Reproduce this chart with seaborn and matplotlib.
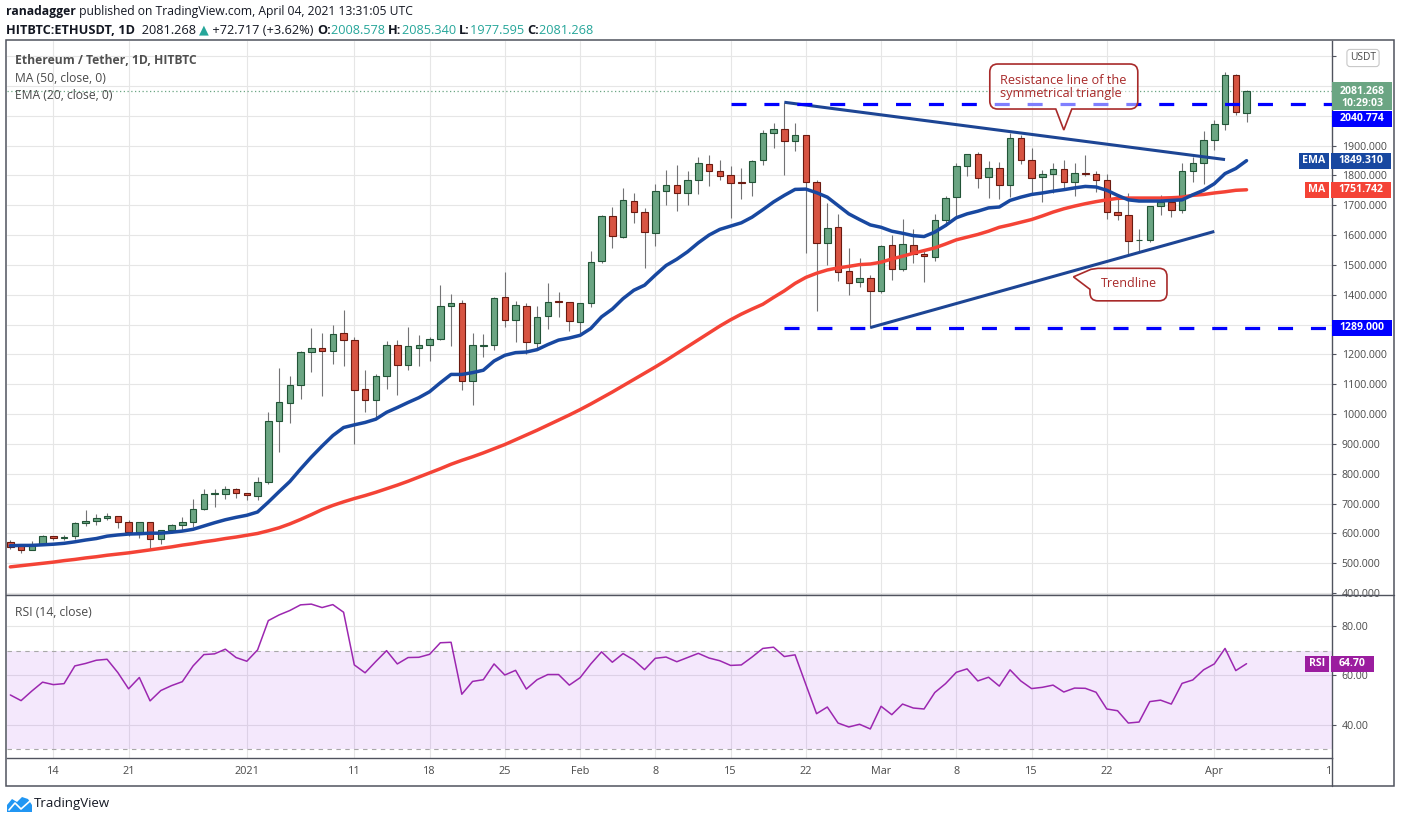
import matplotlib
matplotlib.use("Agg")
import numpy as np
import pandas as pd
import matplotlib.pyplot as plt
import seaborn as sns
from matplotlib.patches import Rectangle, PathPatch, Polygon
from matplotlib.path import Path
from matplotlib.lines import Line2D
from matplotlib.transforms import Bbox, TransformedBbox

# ETH/USDT daily candles, 2020-12-10 .. 2021-04-04
start_date = "2020-12-10"
opens = [573, 560, 543, 566, 590, 586, 590, 635, 642, 652, 657, 637, 605, 637, 582, 613, 627, 637, 683, 731, 731, 750,
         737, 727, 773, 977, 1036, 1097, 1207, 1223, 1213, 1273, 1250, 1083, 1047, 1127, 1230, 1165, 1222, 1230, 1252, 1363,
         1372, 1110, 1229, 1230, 1393, 1317, 1363, 1237, 1330, 1380, 1377,
         1310, 1373, 1513, 1663, 1592, 1713, 1677, 1607, 1747, 1767, 1740, 1783, 1837, 1813, 1800, 1778, 1777, 1850, 1941,
         1954, 1914, 1934, 1779, 1574, 1628, 1479, 1442, 1456,
         1412, 1567, 1486, 1567, 1538, 1527, 1651, 1728, 1833, 1870, 1795, 1826, 1769, 1924, 1850, 1796, 1806, 1823, 1779,
         1809, 1806, 1786, 1677, 1668, 1582, 1584, 1697, 1710, 1685, 1816, 1840,
         1920, 1971, 2136, 2008.578]
highs = [578, 561, 574, 594, 590, 595, 637, 678, 664, 670, 660, 646, 637, 637, 613, 633, 654, 714, 748, 748, 758, 753,
         737, 789, 1008, 1154, 1128, 1211, 1287, 1271, 1298, 1348, 1258, 1148, 1133, 1244, 1250, 1291, 1264, 1258, 1434, 1403,
         1383, 1271, 1268, 1394, 1475, 1378, 1373, 1361, 1438, 1408, 1377,
         1373, 1548, 1668, 1693, 1758, 1741, 1690, 1771, 1818, 1834, 1814, 1861, 1868, 1851, 1831, 1824, 1853, 1952, 1975,
         2043, 1975, 1934, 1784, 1708, 1671, 1557, 1523, 1466,
         1567, 1601, 1654, 1621, 1547, 1671, 1732, 1840, 1870, 1880, 1847, 1844, 1941, 1934, 1891, 1819, 1840, 1851, 1840,
         1868, 1816, 1806, 1721, 1741, 1621, 1698, 1734, 1728, 1840, 1863, 1949,
         1984, 2146, 2139, 2085.340]
lows = [547, 536, 543, 560, 577, 578, 581, 625, 630, 644, 619, 593, 585, 549, 565, 602, 613, 622, 677, 689, 715, 720,
        712, 712, 765, 872, 969, 1052, 1142, 1059, 1169, 1162, 900, 1006, 983, 1085, 1065, 1149, 1161, 1179, 1250, 1229,
        1082, 1029, 1192, 1215, 1292, 1242, 1203, 1214, 1286, 1326, 1279,
        1268, 1359, 1506, 1556, 1590, 1642, 1489, 1562, 1701, 1679, 1701, 1737, 1763, 1783, 1656, 1720, 1730, 1835, 1892,
        1801, 1882, 1539, 1347, 1499, 1445, 1399, 1426, 1290,
        1405, 1451, 1479, 1505, 1442, 1512, 1631, 1663, 1799, 1759, 1725, 1722, 1727, 1838, 1734, 1711, 1741, 1754, 1731,
        1799, 1744, 1653, 1650, 1536, 1546, 1577, 1667, 1660, 1674, 1778, 1771,
        1886, 1951, 2001, 1977.595]
closes = [556, 543, 566, 590, 585, 589, 636, 643, 653, 657, 637, 605, 637, 582, 613, 627, 637, 683, 731, 733, 750, 737,
          730, 773, 977, 1040, 1097, 1207, 1220, 1213, 1270, 1250, 1080, 1047, 1127, 1230, 1166, 1227, 1230, 1253, 1363, 1372,
          1110, 1230, 1232, 1390, 1317, 1367, 1240, 1327, 1377, 1376, 1313,
          1373, 1510, 1663, 1597, 1717, 1677, 1610, 1747, 1767, 1740, 1783, 1840, 1813, 1797, 1773, 1776, 1847, 1941, 1954,
          1914, 1934, 1779, 1574, 1624, 1476, 1439, 1456, 1412,
          1564, 1486, 1570, 1537, 1530, 1651, 1725, 1833, 1870, 1792, 1826, 1769, 1924, 1850, 1792, 1806, 1823, 1779, 1809,
          1805, 1786, 1677, 1667, 1579, 1584, 1698, 1710, 1685, 1816, 1840, 1920,
          1971, 2136, 2011, 2081.268]

ema20 = [559, 560, 560, 562, 564, 567, 572, 578, 583, 591, 595, 598, 599, 601, 601, 604, 608, 614, 625, 636, 646, 654,
         661, 672, 705, 740, 774, 816, 856, 893, 928, 955, 964, 972, 983, 1006, 1022, 1039, 1055, 1075, 1105, 1133,
         1133, 1139, 1147, 1178, 1197, 1206, 1208, 1216, 1233, 1248, 1255,
         1264, 1287, 1326, 1352, 1387, 1415, 1432, 1466, 1498, 1519, 1544, 1574, 1600, 1619, 1630, 1641, 1660, 1685, 1711,
         1733, 1753, 1754, 1742, 1727, 1699, 1671, 1652, 1634,
         1626, 1613, 1606, 1598, 1595, 1610, 1632, 1658, 1671, 1680, 1691, 1694, 1716, 1727, 1736, 1741, 1747, 1752, 1758,
         1763, 1761, 1750, 1733, 1718, 1714, 1714, 1714, 1716, 1718, 1735, 1750,
         1772, 1806, 1823, 1849.31]
ma50 = [488, 492, 496, 500, 504, 509, 513, 518, 522, 527, 531, 535, 540, 545, 550, 555, 561, 566, 572, 577, 583, 588,
        594, 600, 609, 619, 632, 647, 663, 680, 694, 706, 717, 727, 738, 750, 762, 775, 789, 803, 817, 832,
        845, 857, 870, 884, 898, 914, 930, 946, 963, 980, 997,
        1015, 1034, 1054, 1074, 1095, 1116, 1137, 1158, 1180, 1203, 1226, 1249, 1272, 1295, 1316, 1335, 1352, 1368, 1391,
        1413, 1438, 1458, 1472, 1483, 1490, 1495, 1501, 1503,
        1509, 1520, 1529, 1539, 1548, 1557, 1570, 1584, 1593, 1602, 1613, 1626, 1634, 1643, 1652, 1664, 1677, 1688, 1697,
        1705, 1712, 1718, 1723, 1724, 1724, 1724, 1724, 1725, 1727, 1733, 1736,
        1741, 1745, 1750, 1751.742]
rsi14 = [52.0, 49.7, 53.6, 57.2, 56.2, 56.6, 63.8, 64.8, 66.1, 66.5, 61.1, 54.5, 59.1, 49.6, 53.8, 55.8, 57.4, 63.8,
         68.4, 68.7, 70.6, 67.2,
         65.7, 70.3, 82.2, 84.5, 86.3, 88.6, 88.9, 87.5, 88.7, 85.6, 64.2, 61.0, 65.6, 70.0, 64.6, 67.2, 67.3, 68.5, 73.2,
         73.4, 52.3, 57.5, 58.2, 64.6, 60.1, 62.0, 54.4, 58.2, 60.3, 60.3, 56.0,
         59.0, 64.6, 69.5, 65.3, 68.8, 66.2, 62.3, 66.9, 67.4, 65.5, 67.2, 68.9, 67.0, 65.9, 64.0, 64.2, 67.4, 70.9, 71.4,
         67.6, 68.3, 56.3, 44.4, 47.1, 40.6, 39.0, 40.1, 38.2,
         47.4, 44.0, 48.3, 46.7, 46.3, 53.0, 56.6, 61.2, 62.6, 57.7, 59.2, 55.6, 62.2, 57.7, 54.6, 55.1, 56.0, 53.2, 54.8,
         54.7, 53.1, 46.3, 45.6, 40.6, 41.0, 49.3, 49.9, 48.3, 56.7, 58.1, 62.2,
         64.6, 70.9, 61.9, 64.7]

# drawn lines (triangle + levels)
upper_line_days = ["2021-02-20", "2021-04-02"]
upper_line_prices = [2045, 1853]
lower_line_days = ["2021-02-28", "2021-04-01"]
lower_line_prices = [1290, 1612]
resistance_level, resistance_from = 2040.774, "2021-02-15"
support_level, support_from = 1289.0, "2021-02-20"

tick_dates = ["2020-12-14", "2020-12-21", "2021-01-01", "2021-01-11", "2021-01-18", "2021-01-25", "2021-02-01",
              "2021-02-08", "2021-02-15", "2021-02-22", "2021-03-01", "2021-03-08", "2021-03-15", "2021-03-22",
              "2021-04-01"]
tick_labels = ["14", "21", "2021", "11", "18", "25", "Feb", "8", "15", "22", "Mar", "8", "15", "22", "Apr"]

price_ticks = list(range(400, 2300, 100))
hidden_price_ticks = [1300, 2000, 2100, 2200]   # sit under the price tags
rsi_ticks = [40, 60, 80]

dates = pd.date_range(start_date, periods=len(closes), freq="D")
t0 = dates[0]


def day_of(d):
    return (pd.Timestamp(d) - t0).days


df = pd.DataFrame({"day": np.arange(len(dates)), "open": opens, "high": highs, "low": lows,
                   "close": closes, "ema20": ema20, "ma50": ma50, "rsi": rsi14})

# colours
UP, UP_EDGE = "#6ba583", "#225437"
DN, DN_EDGE = "#d75442", "#6b1a10"
WICK = "#737375"
EMA_C, MA_C, TREND_C = "#1848a0", "#f44336", "#1d4594"
AXC, TXT = "#50535e", "#4a4a4a"
CALLOUT = "#a82a2a"

sns.set_style("white")
plt.rcParams["font.family"] = ["Open Sans", "DejaVu Sans"]

W, H = 1402, 823
fig = plt.figure(figsize=(W / 100, H / 100), dpi=100)


def box(x0, y0, x1, y1):
    return [x0 / W, 1 - y1 / H, (x1 - x0) / W, (y1 - y0) / H]


def fpt(x, y):
    return (x / W, 1 - y / H)


ax = fig.add_axes(box(7, 41, 1332, 595))
ax_r = fig.add_axes(box(7, 595, 1332, 758), sharex=ax)

# ---- candles
up = df["close"] >= df["open"]
body_lo = df[["open", "close"]].min(axis=1)
body_h = (df["close"] - df["open"]).abs().clip(lower=3)
ax.vlines(df["day"], df["low"], df["high"], color=WICK, lw=0.8, zorder=2)
ax.bar(df["day"][up], body_h[up], bottom=body_lo[up], width=0.6, color=UP, edgecolor=UP_EDGE, lw=0.8, zorder=3)
ax.bar(df["day"][~up], body_h[~up], bottom=body_lo[~up], width=0.6, color=DN, edgecolor=DN_EDGE, lw=0.8, zorder=3)

# ---- moving averages
sns.lineplot(data=df, x="day", y="ma50", ax=ax, color=MA_C, lw=2.5, zorder=4)
sns.lineplot(data=df, x="day", y="ema20", ax=ax, color=EMA_C, lw=2.5, zorder=4)

# ---- drawings
ax.plot([day_of(d) for d in upper_line_days], upper_line_prices, color=TREND_C, lw=2.2, zorder=5,
        solid_capstyle="butt")
ax.plot([day_of(d) for d in lower_line_days], lower_line_prices, color=TREND_C, lw=2.2, zorder=5,
        solid_capstyle="butt")
ax.plot([day_of(resistance_from), 130], [resistance_level] * 2, color="#0000ff", lw=2.3,
        ls=(0, (4.7, 5.6)), zorder=5)
ax.plot([day_of(support_from), 130], [support_level] * 2, color="#0000ff", lw=2.3,
        ls=(0, (4.7, 5.6)), zorder=5)
ax.axhline(closes[-1], color=UP, lw=0.9, ls=(0, (1, 2)), zorder=1.5)

ax.set_xlim(-0.31, 122.95)
ax.set_ylim(393.8, 2250.3)

# ---- RSI
ax_r.axhspan(30, 70, color="#8a00e8", alpha=0.09, lw=0, zorder=1)
for lvl in (30, 70):
    ax_r.axhline(lvl, color="#a8a8a8", lw=0.8, ls=(0, (4, 4)), zorder=1.5)
sns.lineplot(data=df, x="day", y="rsi", ax=ax_r, color="#9c27b0", lw=1.1, zorder=3)
ax_r.set_ylim(26.4, 92.6)

# ---- axes styling
for a in (ax, ax_r):
    a.set_xlabel("")
    a.set_ylabel("")
    a.set_facecolor("white")
    a.grid(True, color="#e6e6e6", lw=0.8)
    a.set_axisbelow(True)
    a.yaxis.tick_right()
    for s in a.spines.values():
        s.set_color(AXC)
        s.set_linewidth(1.0)
    a.spines["left"].set_visible(False)
    a.spines["top"].set_visible(False)

ax_r.set_xticks([day_of(d) for d in tick_dates])
ax_r.set_xticklabels(tick_labels)
ax.tick_params(axis="x", length=0, labelbottom=False)
ax_r.tick_params(axis="x", length=0, pad=5.5, labelsize=7.8, labelcolor=TXT)

ax.set_yticks(price_ticks)
ax.set_yticklabels(["" if v in hidden_price_ticks else f"{v:.3f}" for v in price_ticks])
ax_r.set_yticks(rsi_ticks)
ax_r.set_yticklabels([f"{v:.2f}" for v in rsi_ticks])
for a in (ax, ax_r):
    a.tick_params(axis="y", length=3, width=0.8, color=AXC, labelsize=7.6, labelcolor=TXT, pad=4)

# frame, separators
fig.add_artist(Rectangle(fpt(6, 786), 1388 / W, 746 / H, transform=fig.transFigure, fill=False,
                         ec=AXC, lw=1.1, zorder=8))
fig.add_artist(Line2D([6 / W, 1394 / W], [1 - 595 / H] * 2, transform=fig.transFigure, color=AXC, lw=1.0, zorder=8))
fig.add_artist(Line2D([1332 / W] * 2, [1 - 758 / H, 1 - 786 / H], transform=fig.transFigure, color=AXC, lw=1.0,
                      zorder=8))

# clipped "12" tick at the right edge
t12 = fig.text((7 + (day_of("2021-04-12") + 0.31) * 10.75) / W, 1 - 771 / H, "12", ha="center", va="center",
               fontsize=7.8, color=TXT)
t12.set_clip_box(TransformedBbox(Bbox([[0, 0], [1331 / W, 1]]), fig.transFigure))
t12.set_clip_on(True)


# ---- price tags on the scale
def py(a, v):
    return H - a.transData.transform((0, v))[1]


def tag(x0, x1, yc, txt, fc, h=16, size=7.6):
    fig.add_artist(Rectangle(fpt(x0, yc + h / 2), (x1 - x0) / W, h / H, transform=fig.transFigure,
                             fc=fc, ec="none", zorder=9))
    fig.text((x0 + x1) / 2 / W, 1 - yc / H, txt, ha="center", va="center",
             color="white", fontsize=size, fontweight="bold", zorder=10)


yc_close = py(ax, closes[-1])
fig.add_artist(Rectangle(fpt(1332, yc_close + 18.5), 60 / W, 28 / H, transform=fig.transFigure,
                         fc=UP, ec="none", zorder=9))
fig.text(1362 / W, 1 - (yc_close + 0.5) / H, f"{closes[-1]:.3f}", ha="center", va="center", color="white",
         fontsize=7.6, fontweight="bold", zorder=10)
fig.text(1362 / W, 1 - (yc_close + 12) / H, "10:29:03", ha="center", va="center", color="white",
         fontsize=7.6, fontweight="bold", zorder=10)
tag(1332, 1392, yc_close + 27.5, f"{resistance_level:.3f}", "#0000ff")
yc = py(ax, ema20[-1])
tag(1299, 1329, yc, "EMA", EMA_C)
tag(1331, 1391, yc, f"{ema20[-1]:.3f}", EMA_C)
yc = py(ax, ma50[-1])
tag(1305, 1329, yc, "MA", MA_C)
tag(1331, 1391, yc, f"{ma50[-1]:.3f}", MA_C)
tag(1332, 1392, py(ax, support_level), f"{support_level:.3f}", "#0000ff")
yc = py(ax_r, rsi14[-1])
tag(1305, 1329, yc, "RSI", "#9b1d9f")
tag(1331, 1374, yc, f"{rsi14[-1]:.2f}", "#9b1d9f")

fig.text(1363 / W, 1 - 58 / H, "USDT", ha="center", va="center", fontsize=7.4, color=TXT, zorder=10,
         bbox=dict(boxstyle="round,pad=0.3,rounding_size=0.3", fc="white", ec="#c8c8c8", lw=0.8))


# ---- callouts
def rounded_path(x0, y0, x1, y1, r, notch=None):
    P = fpt
    v, c = [P(x0 + r, y0)], [Path.MOVETO]
    v += [P(x1 - r, y0), P(x1, y0), P(x1, y0 + r)]
    c += [Path.LINETO, Path.CURVE3, Path.CURVE3]
    v += [P(x1, y1 - r), P(x1, y1), P(x1 - r, y1)]
    c += [Path.LINETO, Path.CURVE3, Path.CURVE3]
    if notch and notch[0] == "bottom":
        _, xa, xb, tip = notch
        v += [P(xb, y1), P(*tip), P(xa, y1)]
        c += [Path.LINETO] * 3
    v += [P(x0 + r, y1), P(x0, y1), P(x0, y1 - r)]
    c += [Path.LINETO, Path.CURVE3, Path.CURVE3]
    if notch and notch[0] == "left":
        _, ya, yb, tip = notch
        v += [P(x0, yb), P(*tip), P(x0 + 1, ya), P(x0 + r, y0)]
        c += [Path.LINETO] * 4
    else:
        v += [P(x0, y0 + r), P(x0, y0), P(x0 + r, y0)]
        c += [Path.LINETO, Path.CURVE3, Path.CURVE3]
    v.append(P(x0 + r, y0))
    c.append(Path.CLOSEPOLY)
    return Path(v, c)


def px_of(day, price):
    x, y = ax.transData.transform((day, price))
    return x, H - y


tx, ty = px_of(98.0, 1952)
fig.add_artist(PathPatch(rounded_path(tx - 74, ty - 66, tx + 74, ty - 21, 8,
                                      ("bottom", tx - 8, tx + 8, (tx, ty))),
                         transform=fig.transFigure, fc=(1, 1, 1, 0.5), ec=CALLOUT, lw=1.2, zorder=7))
fig.text((tx - 64) / W, 1 - (ty - 49.5) / H, "Resistance line of the", ha="left", va="center",
         fontsize=9.2, color=CALLOUT, zorder=7.5)
fig.text((tx - 64) / W, 1 - (ty - 37) / H, "symmetrical triangle", ha="left", va="center",
         fontsize=9.2, color=CALLOUT, zorder=7.5)

tx, ty = px_of(98.9, 1460)
fig.add_artist(PathPatch(rounded_path(tx + 16.5, ty - 8.5, tx + 93.5, ty + 24, 8,
                                      ("left", ty - 7.5, ty + 12.5, (tx, ty))),
                         transform=fig.transFigure, fc=(1, 1, 1, 0.6), ec=CALLOUT, lw=1.2, zorder=7))
fig.text((tx + 55.5) / W, 1 - (ty + 6.5) / H, "Trendline", ha="center", va="center",
         fontsize=9, color=CALLOUT, zorder=7.5)

# ---- pane legends
fig.text(15 / W, 1 - 61 / H, "Ethereum / Tether, 1D, HITBTC", fontsize=8.7, fontweight="bold", color="#505050",
         va="center")
fig.text(15 / W, 1 - 78.5 / H, "MA (50, close, 0)", fontsize=8.7, color=TXT, va="center")
fig.text(15 / W, 1 - 95.5 / H, "EMA (20, close, 0)", fontsize=8.7, color=TXT, va="center")
fig.text(15 / W, 1 - 612 / H, "RSI (14, close)", fontsize=8.7, color=TXT, va="center")

# ---- header
DARK, TEAL = "#131722", "#26a69a"


def chain(prev, s, color=DARK, bold=False, size=9.2):
    return ax.annotate(s, xy=(1, 0), xycoords=prev, xytext=(0, 0), textcoords="offset points",
                       ha="left", va="bottom", fontsize=size, color=color,
                       fontweight="bold" if bold else "normal", annotation_clip=False)


t = fig.text(6 / W, 1 - 12 / H, "ranadagger", fontsize=8.7, fontweight="bold", color=DARK, va="center")
chain(t, " published on TradingView.com, April 04, 2021 13:31:05 UTC", size=8.7)

t = fig.text(6 / W, 1 - 30 / H, "HITBTC:ETHUSDT, 1D", fontsize=9.2, fontweight="bold", color=DARK, va="center")
t = chain(t, "  2081.268 ")
t = chain(t, "▲", color=TEAL)
t = chain(t, " +72.717 (+3.62%) ")
for lab, val in (("O:", "2008.578"), ("H:", "2085.340"), ("L:", "1977.595"), ("C:", "2081.268")):
    t = chain(t, lab, bold=True)
    t = chain(t, val + " ", color=TEAL)

# ---- TradingView logo
fig.add_artist(Polygon([fpt(7, 812), fpt(7, 805), fpt(12, 799), fpt(17, 802), fpt(22, 797), fpt(28, 799),
                        fpt(32, 805), fpt(32, 812)], closed=True, transform=fig.transFigure,
                       fc="#2196f3", ec="none"))
fig.add_artist(Line2D([9 / W, 15 / W, 21 / W, 30 / W], [1 - 810 / H, 1 - 803 / H, 1 - 809 / H, 1 - 801 / H],
                      transform=fig.transFigure, color="white", lw=1.2))
fig.text(34 / W, 1 - 804 / H, "TradingView", fontsize=9.5, color=DARK, va="center")

fig.savefig("out.png", dpi=100, facecolor="white")
